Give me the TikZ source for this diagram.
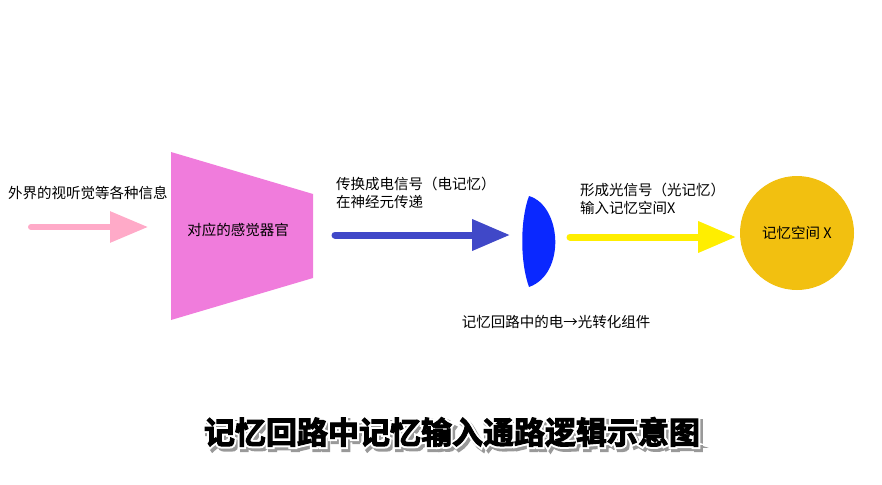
\documentclass[tikz,border=0pt]{standalone}
\usepackage{fontspec}
\setmainfont{Noto Sans CJK SC}
\newfontfamily\titlefont{Noto Sans CJK SC Bold}
\usetikzlibrary{arrows.meta,positioning,shapes.geometric}
\definecolor{sensepink}{HTML}{FFAAC8}
\definecolor{organviolet}{HTML}{F07CDC}
\definecolor{nerveblue}{HTML}{4048C8}
\definecolor{lensblue}{HTML}{0A28FF}
\definecolor{lightyellow}{HTML}{FFEE00}
\definecolor{spacegold}{HTML}{F2C010}
% text drawn as fill + stroke of the given width
\newcommand\strokedtext[2]{\special{pdf:literal direct 2 Tr #1 w}#2}
\newcommand\titletext{记忆回路中记忆输入通路逻辑示意图}
\tikzset{
  txt/.style={inner sep=0pt, font=\fontsize{14.5}{18}\selectfont},
  flow/.style={line width=7pt, line cap=round, -{Triangle[length=38pt,width=30pt]}},
  titletxt/.style={inner sep=0pt, font=\titlefont\fontsize{31}{34}\selectfont}
}
\begin{document}
\begin{tikzpicture}[x=1pt,y=-1pt]
    \useasboundingbox (0,0) rectangle (882,484);

    % sense organ (trapezoid)
    \fill[organviolet] (171,152) -- (313,194) -- (313,278) -- (171,320) -- cycle;
    \node[txt] (organ) at (238,230) {对应的感觉器官};

    % lens component
    \fill[lensblue] (529,196) .. controls (562,206) and (566,274) .. (529,287)
        .. controls (520,262) and (520,220) .. (529,196);
    \coordinate (lens) at (540,241);

    % memory space X
    \node[circle, fill=spacegold, minimum size=114pt, inner sep=0pt, txt] (space) at (797,233) {记忆空间 X};

    % arrows
    \coordinate (inA) at (31,227);
    \coordinate (inB) at (148,227);
    \draw[flow, sensepink, line width=6pt] (inA) -- (inB);
    \coordinate (elA) at (335,235);
    \coordinate (elB) at (510,235);
    \draw[flow, nerveblue] (elA) -- (elB);
    \coordinate (ltA) at (570,237);
    \coordinate (ltB) at (736,237);
    \draw[flow, lightyellow] (ltA) -- (ltB);

    % labels
    \node[txt, anchor=west] (outside) at (8,193) {外界的视听觉等各种信息};
    \node[txt, anchor=west, align=left] (elec) at (336,193) {传换成电信号（电记忆）\\在神经元传递};
    \node[txt, anchor=west, align=left] (light) at (580,199) {形成光信号（光记忆）\\输入记忆空间X};
    \node[txt] (lenslabel) at (556,322) {记忆回路中的电→光转化组件};

    % title: shadow, white outline, black face
    \node[titletxt, text=black!40] (titleshadow) at (454.5,435) {\strokedtext{5}{\titletext}};
    \node[titletxt, text=white] (titleoutline) at (452,432) {\strokedtext{5}{\titletext}};
    \node[titletxt] (title) at (452,432) {\strokedtext{1}{\titletext}};
\end{tikzpicture}
\end{document}
